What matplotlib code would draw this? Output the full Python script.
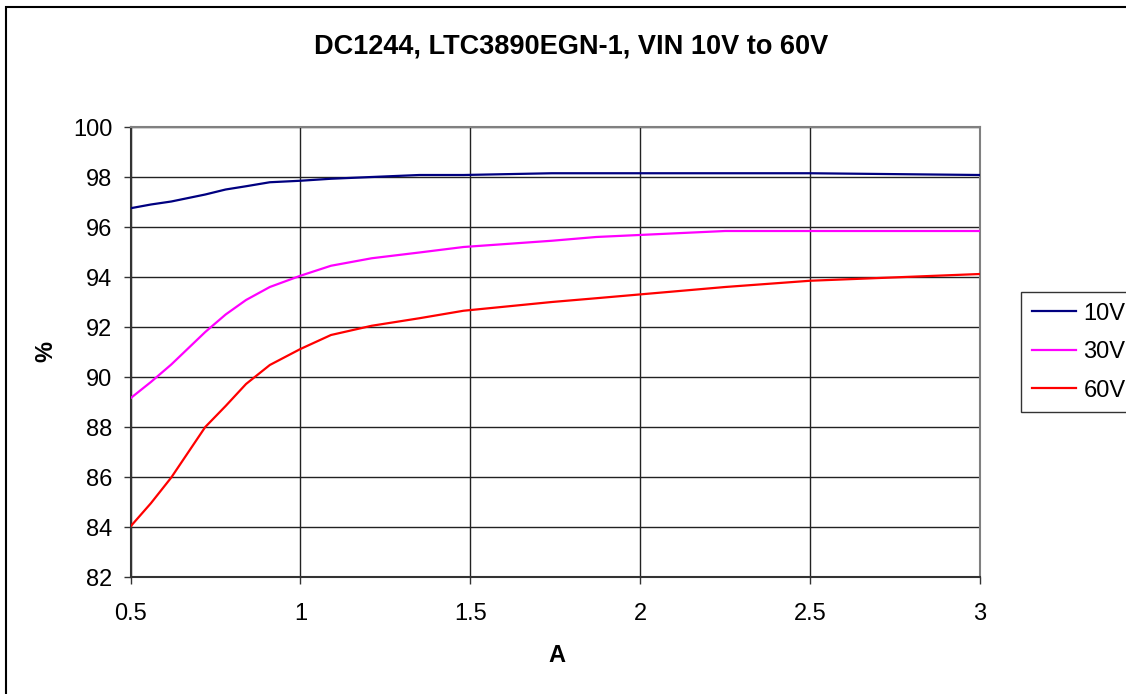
import matplotlib
matplotlib.use("Agg")
import matplotlib.pyplot as plt
from matplotlib.patches import Rectangle

# load current (A)
load_a = [0.5, 0.56, 0.62, 0.72, 0.78, 0.84, 0.91, 1.0, 1.09, 1.21,
          1.35, 1.48, 1.74, 1.87, 2.25, 2.5, 3.0]

# efficiency (%) per input voltage
eff_10v = [96.75, 96.9, 97.02, 97.3, 97.5, 97.63, 97.79, 97.85, 97.93, 98.0,
           98.08, 98.08, 98.15, 98.15, 98.15, 98.15, 98.08]
eff_30v = [89.15, 89.8, 90.5, 91.8, 92.5, 93.08, 93.6, 94.05, 94.45, 94.75,
           94.98, 95.2, 95.45, 95.6, 95.84, 95.84, 95.84]
eff_60v = [84.02, 84.95, 85.98, 88.0, 88.84, 89.72, 90.48, 91.12, 91.68, 92.05,
           92.35, 92.65, 93.0, 93.15, 93.6, 93.85, 94.12]

series_names = ["10V", "30V", "60V"]
x_ticks = [0.5, 1, 1.5, 2, 2.5, 3]
x_tick_labels = ["0.5", "1", "1.5", "2", "2.5", "3"]
y_ticks = list(range(82, 101, 2))

plt.rcParams["font.family"] = ["Liberation Sans", "DejaVu Sans"]

W, H = 1126, 694
fig = plt.figure(figsize=(W / 100, H / 100), dpi=100)
ax = fig.add_axes([130.5 / W, 1 - 577 / H, (980 - 130.5) / W, (577 - 127) / H])

# outer chart border (runs off the right and bottom edges)
fig.patches.append(Rectangle((6 / W, -0.1), 1.2, 1 - 7 / H + 0.1,
                             transform=fig.transFigure, fill=False,
                             edgecolor="black", linewidth=1.5, clip_on=False))

colors = ["#000080", "#FF00FF", "#FF0000"]
for vals, name, c in zip([eff_10v, eff_30v, eff_60v], series_names, colors):
    ax.plot(load_a, vals, color=c, linewidth=1.6, label=name, zorder=3)

ax.set_xlim(0.5, 3)
ax.set_ylim(82, 100)
ax.set_xticks(x_ticks)
ax.set_xticklabels(x_tick_labels)
ax.set_yticks(y_ticks)
ax.tick_params(labelsize=17, direction="out", length=5, width=1, color="#333333")
ax.tick_params(axis="x", pad=14)
ax.tick_params(axis="y", pad=8)
ax.grid(True, color="#222222", linewidth=1)
ax.set_axisbelow(True)

for side in ["left", "bottom"]:
    ax.spines[side].set_color("#333333")
    ax.spines[side].set_linewidth(1.5)
for side in ["top", "right"]:
    ax.spines[side].set_color("#808080")
    ax.spines[side].set_linewidth(1.5)

fig.text(557 / W, 1 - 655 / H, "A", ha="center", va="center",
         fontsize=17, fontweight="bold")
fig.text(46 / W, 1 - 352 / H, "%", ha="center", va="center", rotation=90,
         fontsize=17, fontweight="bold")
fig.text(571 / W, 1 - 47 / H, "DC1244, LTC3890EGN-1, VIN 10V to 60V",
         ha="center", va="center", fontsize=19.5, fontweight="bold")

leg = ax.legend(loc="upper left", bbox_to_anchor=(1021 / W, 1 - 292 / H),
                bbox_transform=fig.transFigure, fontsize=17, frameon=True,
                fancybox=False, edgecolor="black", borderpad=0.45,
                handlelength=1.9, handletextpad=0.3, labelspacing=0.7,
                borderaxespad=0)
leg.get_frame().set_linewidth(1)

fig.savefig("out.png", dpi=100)
